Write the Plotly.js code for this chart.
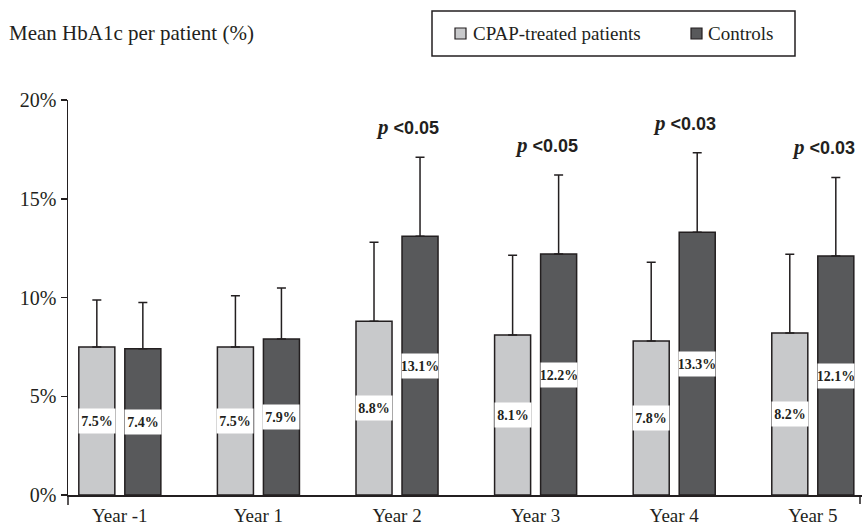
<!DOCTYPE html>
<html>
<head>
<meta charset="utf-8">
<script src="https://cdn.plot.ly/plotly-3.0.1.min.js"></script>
<style>html,body{margin:0;padding:0;background:#fff;}#chart{width:862px;height:530px;}</style>
</head>
<body>
<div id="chart"></div>
<script>
// ---- data ----
const categories = ['Year -1', 'Year 1', 'Year 2', 'Year 3', 'Year 4', 'Year 5'];
const cpapMeans = [7.5, 7.5, 8.8, 8.1, 7.8, 8.2];
const cpapErr = [2.37, 2.59, 4.0, 4.04, 3.98, 3.99];
const controlMeans = [7.4, 7.9, 13.1, 12.2, 13.3, 12.1];
const controlErr = [2.35, 2.58, 4.0, 4.0, 4.03, 3.98];
const pValues = [null, null, '<0.05', '<0.05', '<0.03', '<0.03'];
const seriesNames = ['CPAP-treated patients', 'Controls'];

// ---- styling ----
const INK = '#231f20';
const LIGHT = '#c8c9cb';
const DARK = '#58595b';
const SERIF = '"Liberation Serif", "Times New Roman", serif';
const SANS = '"Liberation Sans", Arial, sans-serif';
const BAR_W = 0.26;
const W = 862, H = 530, ML = 68, MR = 0, MT = 100, MB = 35;
const PW = W - ML - MR, PH = H - MT - MB;
const px = v => (v - ML) / PW;          // pixel -> paper x
const py = v => (H - MB - v) / PH;      // pixel -> paper y

const zeros = categories.map(() => 0);

const traces = [
  {
    type: 'bar', name: seriesNames[0], x: categories, y: cpapMeans,
    width: BAR_W, offset: -0.296, showlegend: false,
    marker: {color: LIGHT, line: {color: INK, width: 1.5}},
    error_y: {type: 'data', symmetric: false, array: cpapErr, arrayminus: zeros,
              color: INK, thickness: 1.5, width: 4.5},
    hoverinfo: 'skip'
  },
  {
    type: 'bar', name: seriesNames[1], x: categories, y: controlMeans,
    width: BAR_W, offset: 0.036, showlegend: false,
    marker: {color: DARK, line: {color: INK, width: 1.5}},
    error_y: {type: 'data', symmetric: false, array: controlErr, arrayminus: zeros,
              color: INK, thickness: 1.5, width: 4.5},
    hoverinfo: 'skip'
  }
];

const annotations = [];
function valueBox(cat, v, shift) {
  return {
    x: cat, y: v / 2, xref: 'x', yref: 'y', xshift: shift,
    text: v.toFixed(1) + '%', showarrow: false,
    font: {family: SERIF, size: 14, color: INK, weight: 'bold'},
    bgcolor: '#ffffff', width: 36, height: 24, borderpad: 0,
    xanchor: 'center', yanchor: 'middle', align: 'center', valign: 'middle'
  };
}
categories.forEach((c, i) => {
  annotations.push(valueBox(c, cpapMeans[i], -23));
  annotations.push(valueBox(c, controlMeans[i], 23));
  if (pValues[i]) {
    annotations.push({
      x: c, y: controlMeans[i] + controlErr[i], xref: 'x', yref: 'y',
      xshift: -23, yshift: 30, xanchor: 'left', yanchor: 'middle',
      showarrow: false,
      text: '<span style="font-family:\'Liberation Serif\';font-size:21px"><i>p</i></span> ' +
            pValues[i].replace('<', '&lt;'),
      font: {family: SANS, size: 18, color: INK, weight: 'bold'}
    });
  }
});

// legend (drawn as a boxed key)
const legendItems = [
  {name: seriesNames[0], color: LIGHT, sx: 455, tx: 471},
  {name: seriesNames[1], color: DARK, sx: 691, tx: 706}
];
const shapes = [
  {type: 'rect', xref: 'paper', yref: 'paper', x0: px(432), x1: px(795), y0: py(11), y1: py(56),
   line: {color: INK, width: 1.5}, fillcolor: '#ffffff', layer: 'above'},
  {type: 'line', xref: 'paper', yref: 'paper', x0: 0, x1: 0, y0: 0, y1: -10 / PH,
   line: {color: INK, width: 1.5}},
  {type: 'line', xref: 'paper', yref: 'paper', x0: px(860), x1: px(860), y0: 0, y1: -9 / PH,
   line: {color: INK, width: 1.5}}
];
legendItems.forEach(it => {
  shapes.push({type: 'rect', xref: 'paper', yref: 'paper',
    x0: px(it.sx), x1: px(it.sx + 11), y0: py(28), y1: py(39),
    line: {color: INK, width: 1.2}, fillcolor: it.color, layer: 'above'});
  annotations.push({xref: 'paper', yref: 'paper', x: px(it.tx), y: py(33.5),
    xanchor: 'left', yanchor: 'middle', showarrow: false, text: it.name,
    font: {family: SERIF, size: 19, color: INK}});
});

const layout = {
  width: W, height: H,
  margin: {l: ML, r: MR, t: MT, b: MB, pad: 0},
  paper_bgcolor: '#ffffff', plot_bgcolor: '#ffffff',
  barmode: 'overlay',
  showlegend: false,
  title: {
    text: 'Mean HbA1c per patient (%)',
    font: {family: SERIF, size: 21, color: INK},
    xref: 'container', yref: 'container', x: 9 / W, xanchor: 'left',
    y: 1 - 33 / H, yanchor: 'middle'
  },
  xaxis: {
    type: 'category', range: [-0.374, 5.355], fixedrange: true,
    showline: true, linecolor: INK, linewidth: 1.5, ticks: '',
    showgrid: false, zeroline: false, automargin: false,
    ticklabelstandoff: 3,
    tickfont: {family: SERIF, size: 19, color: INK}
  },
  yaxis: {
    range: [0, 20], dtick: 5, tick0: 0, ticksuffix: '%', fixedrange: true,
    showline: true, linecolor: INK, linewidth: 1.5,
    ticks: 'outside', ticklen: 6, tickwidth: 1.5, tickcolor: INK,
    showgrid: false, zeroline: false, automargin: false,
    tickfont: {family: SERIF, size: 20, color: INK}
  },
  shapes: shapes,
  annotations: annotations
};

Plotly.newPlot('chart', traces, layout, {displayModeBar: false, staticPlot: true});
</script>
</body>
</html>
